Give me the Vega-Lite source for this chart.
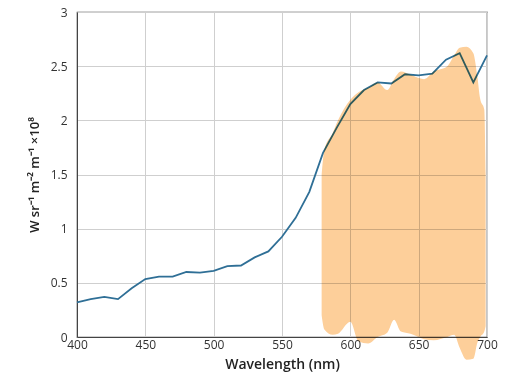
{
  "$schema": "https://vega.github.io/schema/vega-lite/v6.json",
  "width": 410,
  "height": 325,
  "autosize": "none",
  "padding": {"left": 77, "top": 12, "right": 25, "bottom": 49},
  "background": "white",
  "config": {
    "font": "Open Sans",
    "view": {"stroke": "#444", "strokeWidth": 1.2},
    "axis": {
      "domainColor": "#444", "tickColor": "#444", "gridColor": "#cfcfcf",
      "labelColor": "#333", "titleColor": "#222", "labelFontSize": 12,
      "titleFontSize": 13, "titleFontWeight": 600, "labelFlush": false, "labelOverlap": false
    }
  },
  "datasets": {
    "spec": [
      {"w": 400, "r": 0.32}, {"w": 410, "r": 0.35}, {"w": 420, "r": 0.37}, {"w": 430, "r": 0.35},
      {"w": 440, "r": 0.45}, {"w": 450, "r": 0.535}, {"w": 460, "r": 0.557}, {"w": 470, "r": 0.557},
      {"w": 480, "r": 0.60}, {"w": 490, "r": 0.595}, {"w": 500, "r": 0.61}, {"w": 510, "r": 0.655},
      {"w": 520, "r": 0.66}, {"w": 530, "r": 0.735}, {"w": 540, "r": 0.79}, {"w": 550, "r": 0.925},
      {"w": 560, "r": 1.10}, {"w": 570, "r": 1.34}, {"w": 580, "r": 1.70}, {"w": 590, "r": 1.93},
      {"w": 600, "r": 2.15}, {"w": 610, "r": 2.28}, {"w": 620, "r": 2.35}, {"w": 630, "r": 2.34},
      {"w": 640, "r": 2.425}, {"w": 650, "r": 2.415}, {"w": 660, "r": 2.43}, {"w": 670, "r": 2.56},
      {"w": 680, "r": 2.62}, {"w": 690, "r": 2.35}, {"w": 700, "r": 2.60}
    ],
    "blob": [
      {"w": 579, "top": 1.5, "bot": 0.2}, {"w": 581, "top": 1.73, "bot": 0.07},
      {"w": 587, "top": 1.88, "bot": 0.02}, {"w": 591, "top": 2.0, "bot": 0.03},
      {"w": 600, "top": 2.19, "bot": 0.14}, {"w": 606, "top": 2.26, "bot": -0.04},
      {"w": 613, "top": 2.3, "bot": -0.06}, {"w": 620, "top": 2.35, "bot": 0.0},
      {"w": 627, "top": 2.28, "bot": 0.04}, {"w": 632, "top": 2.38, "bot": 0.16},
      {"w": 637, "top": 2.45, "bot": 0.05}, {"w": 644, "top": 2.42, "bot": 0.03},
      {"w": 654, "top": 2.38, "bot": -0.02}, {"w": 661, "top": 2.45, "bot": -0.03},
      {"w": 671, "top": 2.5, "bot": 0.0}, {"w": 676, "top": 2.6, "bot": 0.02},
      {"w": 680, "top": 2.67, "bot": -0.1}, {"w": 685, "top": 2.68, "bot": -0.21},
      {"w": 690, "top": 2.62, "bot": -0.2}, {"w": 693, "top": 2.4, "bot": -0.05},
      {"w": 695, "top": 2.2, "bot": 0.0}, {"w": 698, "top": 2.1, "bot": 0.05},
      {"w": 699, "top": 1.5, "bot": 0.1}
    ]
  },
  "layer": [
    {
      "data": {"name": "spec"},
      "mark": {"type": "line", "color": "#2f6f96", "strokeWidth": 1.8},
      "encoding": {
        "x": {"field": "w", "type": "quantitative", "scale": {"domain": [400, 700], "nice": false},
          "axis": {"title": "Wavelength (nm)", "titleFontSize": 14, "values": [400, 450, 500, 550, 600, 650, 700], "ticks": false, "labelPadding": 2, "titlePadding": 7}},
        "y": {"field": "r", "type": "quantitative", "scale": {"domain": [0, 3], "nice": false},
          "axis": {"title": "W sr⁻¹ m⁻² m⁻¹ ×10⁸", "values": [0, 0.5, 1, 1.5, 2, 2.5, 3], "format": "~g", "ticks": false, "labelPadding": 10, "titlePadding": 9}}
      }
    },
    {
      "data": {"name": "blob"},
      "mark": {"type": "area", "color": "#fdcf9a", "interpolate": "monotone", "blend": "multiply", "clip": false},
      "encoding": {
        "x": {"field": "w", "type": "quantitative",
          "axis": {"orient": "top", "title": null, "labels": false, "grid": false, "ticks": false, "domain": false}},
        "y": {"field": "top", "type": "quantitative",
          "axis": {"orient": "right", "title": null, "labels": false, "grid": false, "ticks": false, "domain": false}},
        "y2": {"field": "bot"}
      }
    }
  ],
  "resolve": {"axis": {"x": "independent", "y": "independent"}}
}
